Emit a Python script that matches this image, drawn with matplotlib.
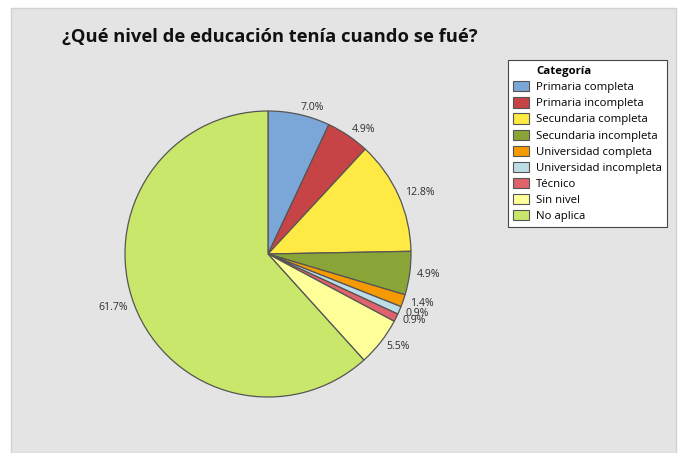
import matplotlib
matplotlib.use("Agg")
import matplotlib.pyplot as plt
from matplotlib.patches import Rectangle, Patch

plt.rcParams['font.family'] = ['Open Sans', 'DejaVu Sans']

# datos del grafico
categorias = ["Primaria completa", "Primaria incompleta", "Secundaria completa",
              "Secundaria incompleta", "Universidad completa", "Universidad incompleta",
              "Técnico", "Sin nivel", "No aplica"]
porcentajes = [7.0, 4.9, 12.8, 4.9, 1.4, 0.9, 0.9, 5.5, 61.7]
colores = ["#7BA6D8", "#C64446", "#FFE944", "#8AA537", "#F59A00",
           "#BCDCE6", "#E0626A", "#FFFF99", "#C9E86B"]
titulo = "¿Qué nivel de educación tenía cuando se fué?"

W, H = 678, 453
fig = plt.figure(figsize=(W / 100, H / 100), dpi=100)
fig.patch.set_facecolor("white")

# panel gris de fondo
fig.patches.append(Rectangle((11 / W, 0), (676 - 11) / W, (H - 8) / H,
                             transform=fig.transFigure, facecolor="#E4E4E4",
                             edgecolor="#D2D2D2", linewidth=1, zorder=-5))

fig.text(62 / W, 1 - 37 / H, titulo, fontsize=13.2, fontweight="bold",
         va="center", ha="left", color="#111111")

# pie axes: centro (268, 254), radio 143 px
cx, cy, r = 268, 254, 143
ax = fig.add_axes([(cx - r) / W, (H - cy - r) / H, 2 * r / W, 2 * r / H])
ax.set_facecolor("none")
ax.set_zorder(2)

etiquetas = ["%.1f%%" % p for p in porcentajes]
wedges, texts = ax.pie(porcentajes, colors=colores, startangle=90, counterclock=False,
                       labels=etiquetas, labeldistance=1.05,
                       wedgeprops=dict(edgecolor="#555555", linewidth=0.9),
                       textprops=dict(fontsize=7.6, color="#2E2E2E"))
ax.set_xlim(-1, 1)
ax.set_ylim(-1, 1)
ax.set_aspect("equal")

# leyenda
handles = [Patch(facecolor="none", edgecolor="none")]
handles += [Patch(facecolor=c, edgecolor="#555555", linewidth=0.8) for c in colores]
leg = fig.legend(handles, ["Categoría"] + categorias, loc="upper left",
                 bbox_to_anchor=(508 / W, 1 - 60 / H), fontsize=8.2,
                 frameon=True, fancybox=False, edgecolor="#444444", framealpha=1,
                 facecolor="white",
                 handlelength=1.4, handleheight=1.0, handletextpad=0.6,
                 labelspacing=0.36, borderpad=0.45, borderaxespad=0)
leg.get_frame().set_linewidth(0.8)
leg.get_texts()[0].set_fontweight("bold")
leg.set_zorder(3)

fig.savefig("out.png", dpi=100)
